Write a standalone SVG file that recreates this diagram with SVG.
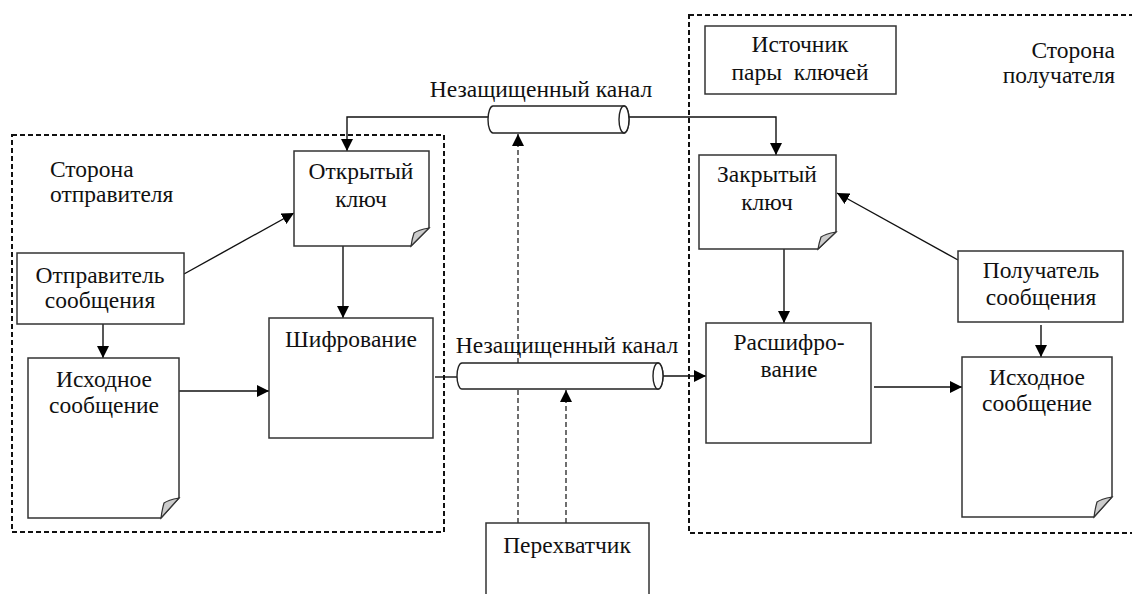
<svg xmlns="http://www.w3.org/2000/svg" width="1132" height="594" viewBox="0 0 1132 594">
  <style>
    text { font-family: "Liberation Serif", "Times New Roman", serif; font-size: 23.5px; fill: #111; }
    .c { text-anchor: middle; }
    .r { text-anchor: end; }
    .box { fill: #fff; stroke: #333; stroke-width: 1.5; }
    .flap { fill: #ccc; stroke: #333; stroke-width: 1.2; }
    .zone { fill: none; stroke: #111; stroke-width: 2; stroke-dasharray: 5 3; }
    .link { fill: none; stroke: #111; stroke-width: 1.4; }
    .spy { fill: none; stroke: #222; stroke-width: 1.3; stroke-dasharray: 5 3; }
    .pipe { fill: #fff; stroke: #222; stroke-width: 1.4; }
  </style>
  <defs>
    <marker id="arr" viewBox="0 0 12 12" refX="12" refY="6" markerWidth="12" markerHeight="12" markerUnits="userSpaceOnUse" orient="auto">
      <path d="M0,0 L12,6 L0,12 Z" fill="#000"/>
    </marker>
  </defs>

  <rect width="1132" height="594" fill="#fff"/>

  <!-- sender and receiver zones -->
  <g id="sender-zone">
    <rect class="zone" x="12" y="135" width="432" height="397"/>
    <text x="50" y="177">Сторона</text>
    <text x="50" y="202">отправителя</text>
  </g>
  <g id="receiver-zone">
    <rect class="zone" x="689" y="15" width="460" height="518"/>
    <text class="r" x="1115" y="58">Сторона</text>
    <text class="r" x="1115" y="83">получателя</text>
  </g>

  <!-- connectors -->
  <g id="connectors">
    <polyline class="link" points="488,117 347,117 347,151" marker-end="url(#arr)"/>
    <polyline class="link" points="629,117 776,117 776,155" marker-end="url(#arr)"/>
    <line class="link" x1="184" y1="274" x2="294" y2="213" marker-end="url(#arr)"/>
    <line class="link" x1="103" y1="324" x2="103" y2="358" marker-end="url(#arr)"/>
    <line class="link" x1="179" y1="391" x2="269" y2="391" marker-end="url(#arr)"/>
    <line class="link" x1="343" y1="246" x2="343" y2="318" marker-end="url(#arr)"/>
    <line class="link" x1="435" y1="377" x2="457" y2="377"/>
    <line class="link" x1="663" y1="376" x2="706" y2="376" marker-end="url(#arr)"/>
    <line class="link" x1="958" y1="260" x2="837" y2="193" marker-end="url(#arr)"/>
    <line class="link" x1="784" y1="249" x2="784" y2="323" marker-end="url(#arr)"/>
    <line class="link" x1="874" y1="387" x2="962" y2="387" marker-end="url(#arr)"/>
    <line class="link" x1="1041" y1="325" x2="1041" y2="357" marker-end="url(#arr)"/>
    <line class="spy" x1="518" y1="523" x2="518" y2="134" marker-end="url(#arr)"/>
    <line class="spy" x1="566" y1="523" x2="566" y2="390" marker-end="url(#arr)"/>
  </g>

  <!-- insecure channels -->
  <g id="channel-top">
    <path class="pipe" d="M493,106 H624 A5,13.5 0 0 1 624,133 H493 A5,13.5 0 0 1 493,106 Z"/>
    <ellipse class="pipe" cx="624" cy="119.5" rx="5" ry="13.5"/>
    <text class="c" x="541" y="97">Незащищенный канал</text>
  </g>
  <g id="channel-bottom">
    <path class="pipe" d="M462,363 H658 A5,13 0 0 1 658,389 H462 A5,13 0 0 1 462,363 Z"/>
    <ellipse class="pipe" cx="658" cy="376" rx="5" ry="13"/>
    <text class="c" x="567" y="353">Незащищенный канал</text>
  </g>

  <!-- sender side -->
  <g id="public-key">
    <path class="box" d="M294,151 H429 V228 L411,246 H294 Z"/>
    <path class="flap" d="M429,228 Q418,230 414,233 Q412,239 411,246 Z"/>
    <text class="c" x="361" y="179">Открытый</text>
    <text class="c" x="361" y="207">ключ</text>
  </g>
  <g id="sender">
    <rect class="box" x="17" y="253" width="167" height="71"/>
    <text class="c" x="100" y="283">Отправитель</text>
    <text class="c" x="100" y="308">сообщения</text>
  </g>
  <g id="source-message-left">
    <path class="box" d="M28,358 H179 V498 L161,518 H28 Z"/>
    <path class="flap" d="M179,498 Q168,500 164,503 Q162,510 161,518 Z"/>
    <text class="c" x="104" y="387">Исходное</text>
    <text class="c" x="104" y="413">сообщение</text>
  </g>
  <g id="encryption">
    <rect class="box" x="269" y="318" width="164" height="120"/>
    <text class="c" x="351" y="347">Шифрование</text>
  </g>

  <!-- interceptor -->
  <g id="interceptor">
    <rect class="box" x="486" y="523" width="163" height="80"/>
    <text class="c" x="567" y="553">Перехватчик</text>
  </g>

  <!-- receiver side -->
  <g id="key-pair-source">
    <rect class="box" x="705" y="26" width="191" height="68"/>
    <text class="c" x="800" y="52">Источник</text>
    <text class="c" x="800" y="80" xml:space="preserve">пары  ключей</text>
  </g>
  <g id="private-key">
    <path class="box" d="M699,155 H836 V232 L818,249 H699 Z"/>
    <path class="flap" d="M836,232 Q825,234 821,237 Q819,243 818,249 Z"/>
    <text class="c" x="767" y="182">Закрытый</text>
    <text class="c" x="767" y="210">ключ</text>
  </g>
  <g id="receiver">
    <rect class="box" x="958" y="251" width="165" height="71"/>
    <text class="c" x="1041" y="278">Получатель</text>
    <text class="c" x="1041" y="305">сообщения</text>
  </g>
  <g id="decryption">
    <rect class="box" x="706" y="323" width="165" height="120"/>
    <text class="c" x="789" y="350">Расшифро-</text>
    <text class="c" x="789" y="377">вание</text>
  </g>
  <g id="source-message-right">
    <path class="box" d="M962,357 H1112 V497 L1094,517 H962 Z"/>
    <path class="flap" d="M1112,497 Q1101,499 1097,502 Q1095,509 1094,517 Z"/>
    <text class="c" x="1037" y="385">Исходное</text>
    <text class="c" x="1037" y="411">сообщение</text>
  </g>
</svg>
